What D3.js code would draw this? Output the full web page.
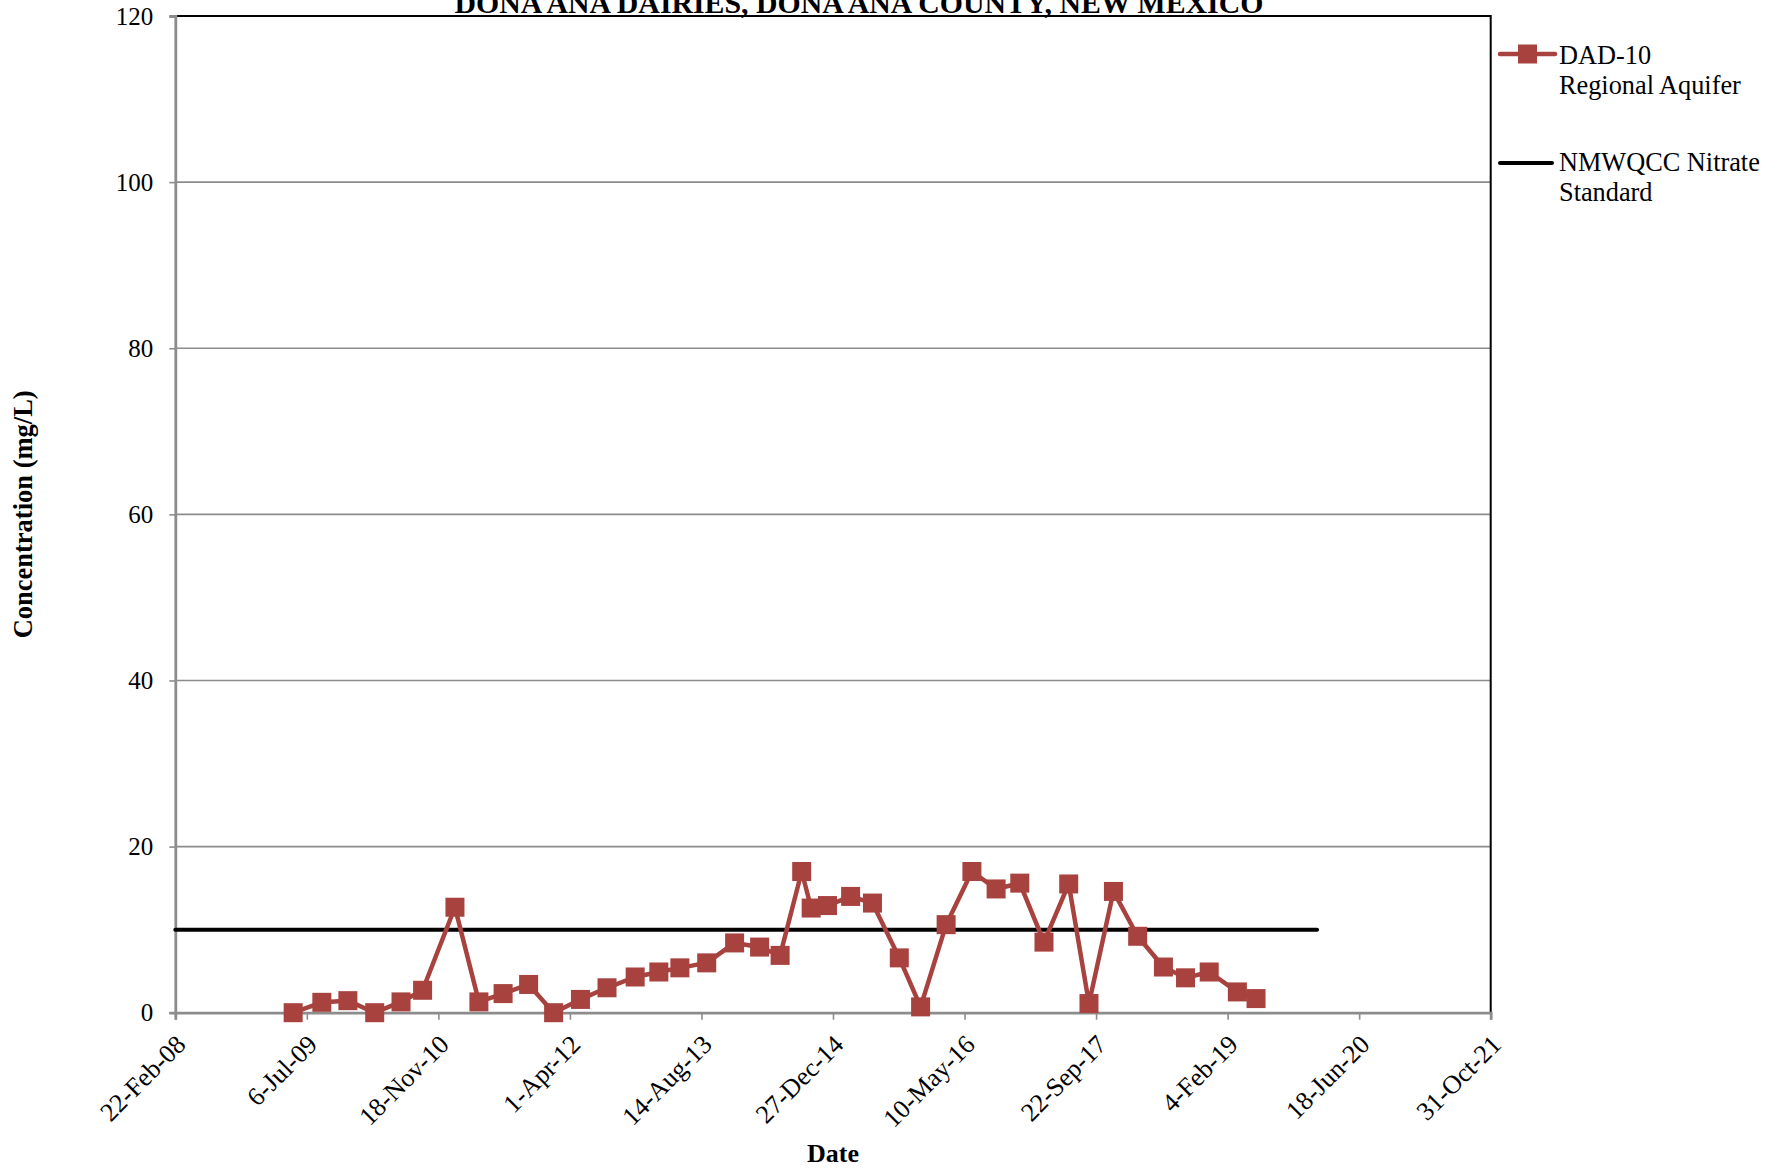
<!DOCTYPE html>
<html>
<head>
<meta charset="utf-8">
<script src="https://cdn.jsdelivr.net/npm/d3@7"></script>
<style>
  body { margin: 0; background: #fff; }
  svg { display: block; font-family: "Liberation Serif", "Times New Roman", serif; }
</style>
</head>
<body>
<svg id="chart" width="1785" height="1169"></svg>
<script>
// sample dates and nitrate values for DAD-10
const sampleDates = [
  "2009-05-15", "2009-09-01", "2009-12-09", "2010-03-21", "2010-06-29",
  "2010-09-19", "2011-01-20", "2011-04-21", "2011-07-22", "2011-10-27",
  "2012-01-30", "2012-05-11", "2012-08-20", "2012-12-05", "2013-03-05",
  "2013-05-24", "2013-09-03", "2013-12-18", "2014-03-23", "2014-06-09",
  "2014-08-30", "2014-10-05", "2014-12-06", "2015-03-04", "2015-05-26",
  "2015-09-05", "2015-11-25", "2016-03-01", "2016-06-07", "2016-09-07",
  "2016-12-06", "2017-03-08", "2017-06-10", "2017-08-26", "2017-11-27",
  "2018-02-27", "2018-06-05", "2018-08-28", "2018-11-26", "2019-03-13",
  "2019-05-23"
];
const sampleValues = [
  0, 1.25, 1.45, 0, 1.3,
  2.7, 12.7, 1.3, 2.3, 3.4,
  0, 1.6, 3.0, 4.3, 4.9,
  5.4, 6.0, 8.4, 7.9, 6.9,
  17.0, 12.6, 12.9, 14.0, 13.2,
  6.6, 0.7, 10.6, 17.0, 14.9,
  15.6, 8.5, 15.5, 1.1, 14.6,
  9.2, 5.5, 4.2, 4.9, 2.5,
  1.7
];

// NMWQCC nitrate standard
const standardDates = ["2008-02-22", "2020-01-10"];
const standardValues = [10, 10];

const yTicks = [0, 20, 40, 60, 80, 100, 120];
const xStart = "2008-02-22";
const xEnd = "2021-10-31";
const xStepDays = 500;

const titleText = "DONA ANA DAIRIES, DONA ANA COUNTY, NEW MEXICO";
const seriesNames = [["DAD-10", "Regional Aquifer"], ["NMWQCC Nitrate", "Standard"]];

const parse = d3.timeParse("%Y-%m-%d");
const fmt = d3.timeFormat("%-d-%b-%y");

const svg = d3.select("#chart");
const plotLeft = 175.3, plotRight = 1490.7, plotTop = 16, plotBottom = 1012.7;

const x = d3.scaleTime()
  .domain([parse(xStart), parse(xEnd)])
  .range([plotLeft, plotRight]);

const y = d3.scaleLinear()
  .domain([0, 120])
  .range([plotBottom, plotTop]);

const xTicks = d3.range(0, 5001, xStepDays).map(n => d3.timeDay.offset(parse(xStart), n));

const grey = "#8c8c8c";
const red = "#a8423f";

// gridlines
svg.append("g")
  .selectAll("line")
  .data(yTicks.filter(v => v > 0 && v < 120))
  .enter()
  .append("line")
  .attr("x1", plotLeft).attr("x2", plotRight)
  .attr("y1", d => y(d)).attr("y2", d => y(d))
  .attr("stroke", grey)
  .attr("stroke-width", 1.6);

// plot border top and right
svg.append("path")
  .attr("d", `M${plotLeft},${y(120)}H${plotRight}V${plotBottom}`)
  .attr("fill", "none")
  .attr("stroke", "#000")
  .attr("stroke-width", 2);

// y axis
const yAxis = svg.append("g")
  .attr("transform", `translate(${plotLeft},0)`)
  .call(d3.axisLeft(y).tickValues(yTicks).tickSize(6).tickPadding(16));
yAxis.select(".domain").attr("stroke", grey).attr("stroke-width", 2.8);
yAxis.selectAll(".tick line").attr("stroke", grey).attr("stroke-width", 1.6);
yAxis.selectAll(".tick text")
  .attr("font-size", "25px")
  .attr("font-family", "Liberation Serif")
  .attr("fill", "#000");

// x axis
const xAxis = svg.append("g")
  .attr("transform", `translate(0,${plotBottom})`)
  .call(d3.axisBottom(x).tickValues(xTicks).tickFormat(fmt).tickSize(7));
xAxis.select(".domain").attr("stroke", grey).attr("stroke-width", 2.8);
xAxis.selectAll(".tick line").attr("stroke", grey).attr("stroke-width", 1.6);
xAxis.selectAll(".tick text")
  .attr("font-size", "26px")
  .attr("font-family", "Liberation Serif")
  .attr("fill", "#000")
  .attr("text-anchor", "end")
  .attr("y", 0)
  .attr("dy", "0.35em")
  .attr("transform", "translate(5,27) rotate(-45)");

// standard line
const line = d3.line()
  .x(d => x(d.date))
  .y(d => y(d.value));

const standard = standardDates.map((d, i) => ({ date: parse(d), value: standardValues[i] }));
svg.append("path")
  .datum(standard)
  .attr("d", line)
  .attr("fill", "none")
  .attr("stroke", "#000")
  .attr("stroke-width", 4)
  .attr("stroke-linecap", "round");

// DAD-10 series
const samples = sampleDates.map((d, i) => ({ date: parse(d), value: sampleValues[i] }));
svg.append("path")
  .datum(samples)
  .attr("d", line)
  .attr("fill", "none")
  .attr("stroke", red)
  .attr("stroke-width", 4.5)
  .attr("stroke-linejoin", "round");

const m = 19;
svg.append("g")
  .selectAll("rect")
  .data(samples)
  .enter()
  .append("rect")
  .attr("x", d => x(d.date) - m / 2)
  .attr("y", d => y(d.value) - m / 2)
  .attr("width", m)
  .attr("height", m)
  .attr("fill", red);

// title (clipped at top in the original)
svg.append("text")
  .attr("x", 859)
  .attr("y", 13)
  .attr("text-anchor", "middle")
  .attr("font-size", "29.8px")
  .attr("font-weight", "bold")
  .text(titleText);

// axis titles
svg.append("text")
  .attr("x", (plotLeft + plotRight) / 2)
  .attr("y", 1162)
  .attr("text-anchor", "middle")
  .attr("font-size", "26px")
  .attr("font-weight", "bold")
  .text("Date");

svg.append("text")
  .attr("transform", `translate(32,${(plotTop + plotBottom) / 2}) rotate(-90)`)
  .attr("text-anchor", "middle")
  .attr("font-size", "26.5px")
  .attr("font-weight", "bold")
  .text("Concentration (mg/L)");

// legend
const legend = svg.append("g").attr("transform", "translate(1500,0)");

legend.append("line")
  .attr("x1", 0).attr("x2", 55)
  .attr("y1", 54).attr("y2", 54)
  .attr("stroke", red).attr("stroke-width", 4.5).attr("stroke-linecap", "round");
legend.append("rect")
  .attr("x", 18).attr("y", 54 - m / 2)
  .attr("width", m).attr("height", m)
  .attr("fill", red);

legend.append("line")
  .attr("x1", 0).attr("x2", 52)
  .attr("y1", 163).attr("y2", 163)
  .attr("stroke", "#000").attr("stroke-width", 4).attr("stroke-linecap", "round");

const baselines = [[63.5, 94], [171, 201]];
seriesNames.forEach((lines, i) => {
  lines.forEach((t, j) => {
    legend.append("text")
      .attr("x", 59)
      .attr("y", baselines[i][j])
      .attr("font-size", "26.3px")
      .text(t);
  });
});
</script>
</body>
</html>
